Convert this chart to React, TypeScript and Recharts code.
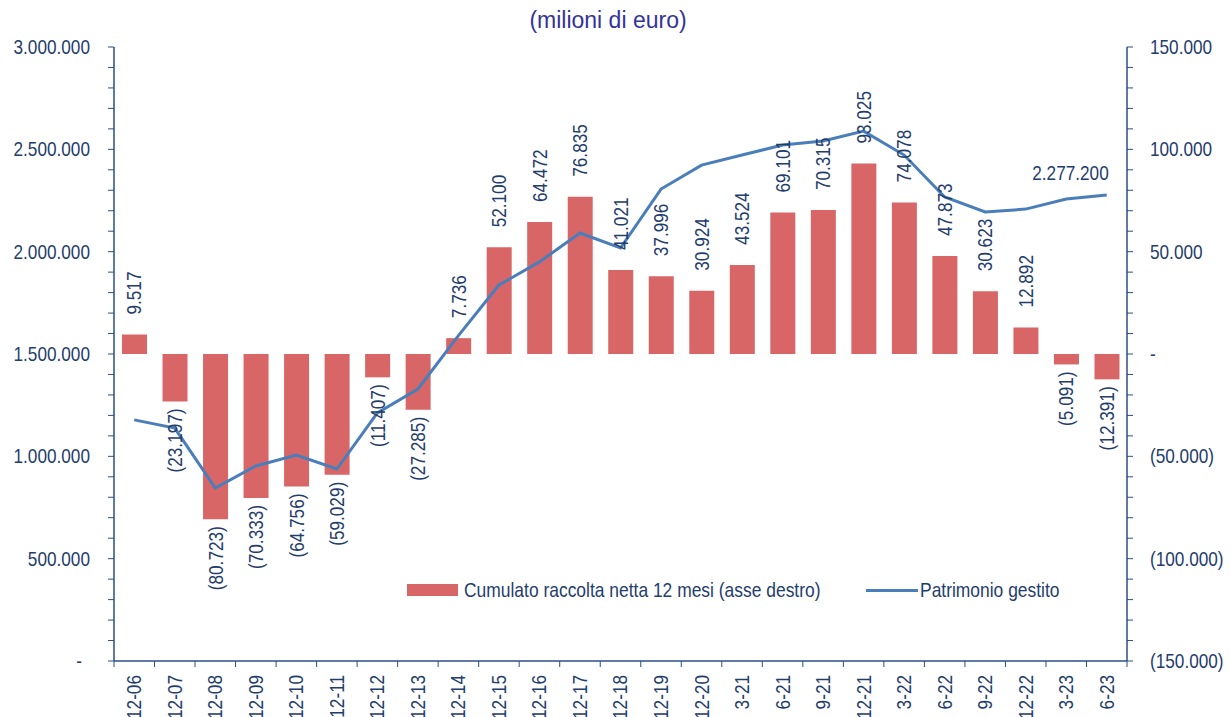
import React from 'react';
import {
  ComposedChart,
  Bar,
  Line,
  XAxis,
  YAxis,
  LabelList,
} from 'recharts';

const categories = [
  '12-06', '12-07', '12-08', '12-09', '12-10', '12-11', '12-12', '12-13',
  '12-14', '12-15', '12-16', '12-17', '12-18', '12-19', '12-20', '3-21',
  '6-21', '9-21', '12-21', '3-22', '6-22', '9-22', '12-22', '3-23', '6-23',
];

// cumulato raccolta netta 12 mesi (asse destro)
const raccolta = [
  9517, -23197, -80723, -70333, -64756, -59029, -11407, -27285, 7736, 52100,
  64472, 76835, 41021, 37996, 30924, 43524, 69101, 70315, 93025, 74078,
  47873, 30623, 12892, -5091, -12391,
];

// patrimonio gestito (asse sinistro)
const patrimonio = [
  1178000, 1138000, 845000, 953000, 1006000, 938000, 1212000, 1329000,
  1590000, 1837000, 1950000, 2091000, 2018000, 2306000, 2423000, 2472000,
  2521000, 2541000, 2589000, 2472000, 2267000, 2194000, 2208000, 2257000,
  2277200,
];

const leftTicks = Array.from({ length: 31 }, (_, i) => i * 100000);
const rightTicks = Array.from({ length: 31 }, (_, i) => -150000 + i * 10000);

const data = categories.map((cat, i) => ({
  cat,
  raccolta: raccolta[i],
  patrimonio: patrimonio[i],
}));

const W = 1215;
const H = 709;
const LEFT_W = 106;
const RIGHT_W = 96;
const TOP = 39;
const X_H = 56;
const PLOT_BOTTOM = H - X_H;
const BAND = (W - LEFT_W - RIGHT_W) / categories.length;
const LAST = categories.length - 1;

// no narrow font installed: squeeze Liberation Sans horizontally instead
const FONT = "'Liberation Sans', Arial, sans-serif";
const SX = 0.86;
const TEXT = '#1f3d6d';
const AXIS = '#2a4f86';
const RED = '#d86666';
const BLUE = '#4a7ebb';

const dots = (v: number) =>
  Math.round(v).toString().replace(/\B(?=(\d{3})+(?!\d))/g, '.');
const fmt = (v: number) => (v === 0 ? '-' : v < 0 ? `(${dots(-v)})` : dots(v));

const NText = ({ x, y, rot = 0, anchor = 'start', baseline = 'central', size = 20, children }: any) => (
  <g transform={`translate(${x},${y}) rotate(${rot}) scale(${SX},1)`}>
    <text
      x={0}
      y={0}
      textAnchor={anchor}
      dominantBaseline={baseline}
      fill={TEXT}
      fontSize={size}
      fontFamily={FONT}
    >
      {children}
    </text>
  </g>
);

const LeftTick = (props: any) => {
  const { x, y, payload } = props;
  const v = payload.value;
  if (v % 500000 !== 0) return null;
  return (
    <NText x={v === 0 ? x - 8 : x} y={y} anchor="end">
      {fmt(v)}
    </NText>
  );
};

const RightTick = (props: any) => {
  const { x, y, payload } = props;
  const v = payload.value;
  if (v % 50000 !== 0) return null;
  return (
    <NText x={x} y={y} anchor="start">
      {fmt(v)}
    </NText>
  );
};

const CatTick = (props: any) => {
  const { x, payload, index } = props;
  return (
    <g>
      <line x1={x - BAND / 2} x2={x - BAND / 2} y1={PLOT_BOTTOM} y2={PLOT_BOTTOM + 6} stroke={AXIS} />
      {index === LAST && (
        <line x1={x + BAND / 2} x2={x + BAND / 2} y1={PLOT_BOTTOM} y2={PLOT_BOTTOM + 6} stroke={AXIS} />
      )}
      <NText x={x} y={PLOT_BOTTOM + 14} rot={-90} anchor="end">
        {payload.value}
      </NText>
    </g>
  );
};

const BarLabel = (props: any) => {
  const { x, y, width, height, value } = props;
  const cx = x + width / 2;
  const top = Math.min(y, y + height);
  const bottom = Math.max(y, y + height);
  const pos = value >= 0;
  return (
    <NText x={cx} y={pos ? top - 20 : bottom + 7} rot={-90} anchor={pos ? 'start' : 'end'}>
      {fmt(value)}
    </NText>
  );
};

const LineLabel = (props: any) => {
  const { x, y, value, index } = props;
  if (index !== LAST && value !== patrimonio[LAST]) return null;
  return (
    <NText x={x + 2} y={y - 22} anchor="end">
      {dots(value)}
    </NText>
  );
};

const legendText: React.CSSProperties = {
  position: 'absolute',
  fontFamily: FONT,
  fontSize: 21,
  color: TEXT,
  lineHeight: '24px',
  whiteSpace: 'nowrap',
  transform: 'scaleX(0.83)',
  transformOrigin: 'left center',
};

export default function App() {
  return (
    <div style={{ position: 'relative', width: W, height: H }}>
      <ComposedChart
        width={W}
        height={H}
        data={data}
        margin={{ top: TOP, right: 0, left: 0, bottom: 0 }}
        barSize={25}
      >
        <XAxis
          dataKey="cat"
          interval={0}
          height={X_H}
          tickLine={false}
          axisLine={{ stroke: AXIS, strokeWidth: 1.5 }}
          tick={<CatTick />}
        />
        <YAxis
          yAxisId="left"
          width={LEFT_W}
          domain={[0, 3000000]}
          ticks={leftTicks}
          interval={0}
          tickSize={6}
          tickMargin={18}
          axisLine={{ stroke: AXIS, strokeWidth: 1.5 }}
          tickLine={{ stroke: AXIS }}
          tick={<LeftTick />}
        />
        <YAxis
          yAxisId="right"
          orientation="right"
          width={RIGHT_W}
          domain={[-150000, 150000]}
          ticks={rightTicks}
          interval={0}
          tickSize={6}
          tickMargin={17}
          axisLine={{ stroke: AXIS, strokeWidth: 1.5 }}
          tickLine={{ stroke: AXIS }}
          tick={<RightTick />}
        />
        <Bar yAxisId="right" dataKey="raccolta" fill={RED} isAnimationActive={false}>
          <LabelList dataKey="raccolta" content={<BarLabel />} />
        </Bar>
        <Line
          yAxisId="left"
          type="linear"
          dataKey="patrimonio"
          stroke={BLUE}
          strokeWidth={3}
          dot={false}
          activeDot={false}
          isAnimationActive={false}
        >
          <LabelList dataKey="patrimonio" content={<LineLabel />} />
        </Line>
      </ComposedChart>
      <div
        style={{
          position: 'absolute',
          top: -2,
          left: 0,
          width: 1200,
          textAlign: 'center',
          fontFamily: FONT,
          fontSize: 23,
          color: '#343399',
          lineHeight: '28px',
        }}
      >
        (milioni di euro)
      </div>
      <div style={{ position: 'absolute', left: 399, top: 576, width: 51, height: 12, background: RED }} />
      <div style={{ ...legendText, left: 456, top: 570 }}>Cumulato raccolta netta 12 mesi (asse destro)</div>
      <div style={{ position: 'absolute', left: 858, top: 581, width: 52, height: 3, background: BLUE }} />
      <div style={{ ...legendText, left: 912, top: 570 }}>Patrimonio gestito</div>
    </div>
  );
}
